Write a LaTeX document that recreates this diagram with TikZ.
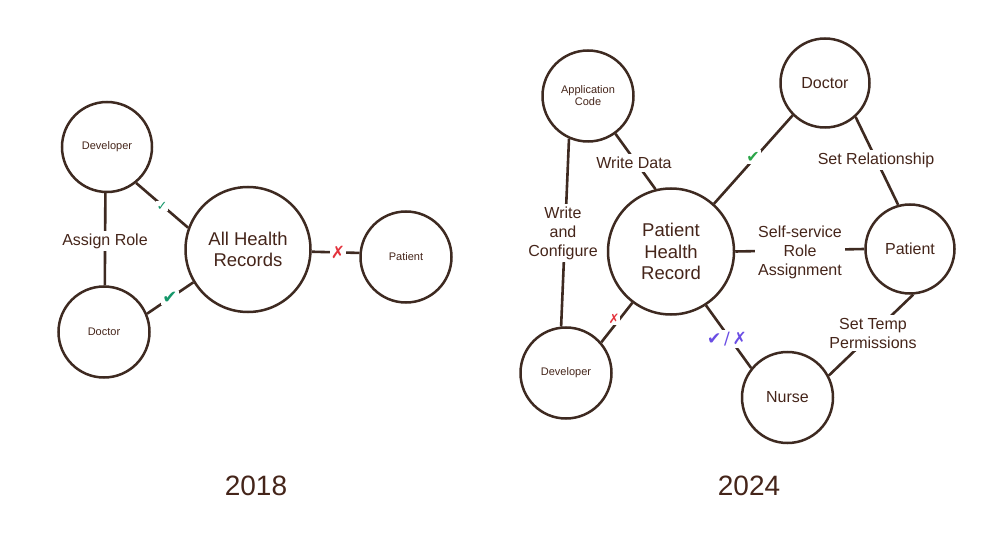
\documentclass[tikz,border=0pt]{standalone}
\usepackage{fontspec}
\setmainfont{Liberation Sans}
\newfontfamily\symf{DejaVu Sans}
\newcommand\fsz[2]{\fontsize{#1}{#2}\selectfont}
\definecolor{textc}{HTML}{45251A}
\definecolor{linec}{HTML}{3E2A21}
\definecolor{okgreen}{HTML}{15976A}
\definecolor{okgreenb}{HTML}{2AA548}
\definecolor{nored}{HTML}{E3323C}
\definecolor{purp}{HTML}{6A4DE4}
\tikzset{
  ent/.style={circle, draw=linec, line width=2.5pt, text=textc, align=center, inner sep=0pt},
  small/.style={font=\fsz{11}{12}},
  mid/.style={font=\fsz{16}{19}},
  big/.style={font=\fsz{18.5}{21.5}},
  conn/.style={draw=linec, line width=2.6pt},
  lbl/.style={fill=white, text=textc, align=center, inner sep=3pt, font=\fsz{16}{19}},
  mark/.style={fill=white, inner sep=2pt, font=\symf\fsz{#1}{#1}},
  mark/.default=13,
  year/.style={text=textc, font=\fsz{28}{28}}
}
\begin{document}
\begin{tikzpicture}[x=1pt,y=-1pt]
\useasboundingbox[fill=white] (0,0) rectangle (1004,540);
% ---------- 2018 ----------
\node[ent, small, minimum size=90pt] (ldev) at (107,147) {Developer};
\node[ent, small, minimum size=91pt] (ldoc) at (104,332) {Doctor};
\node[ent, big, minimum size=125pt] (ahr) at (248,249.5) {All Health\\Records};
\node[ent, small, minimum size=91pt] (lpat) at (406,257) {Patient};

\draw[conn] (ldev.-92) -- (ldoc.89);
\node[lbl] (assign) at (105,241) {Assign Role};
\draw[conn] (ldev.-51) -- (ahr.160);
\node[mark=13, text=okgreen, inner sep=1pt] (lchk1) at (162,206) {✓};
\draw[conn] (ldoc.23) -- (ahr.-149);
\node[mark=18, text=okgreen, inner sep=1pt] (lchk2) at (170,298) {✔};
\draw[conn] (ahr.-2) -- (lpat.175);
\node[mark=17, text=nored, inner sep=1pt] (lx) at (338,252) {✗};

\node[year] (y18) at (256,486) {2018};

% ---------- 2024 ----------
\node[ent, small, minimum size=91pt] (app) at (588,96) {Application\\Code};
\node[ent, mid, minimum size=89pt] (rdoc) at (825,83) {Doctor};
\node[ent, big, minimum size=126pt] (phr) at (671,251.5) {Patient\\Health\\Record};
\node[ent, mid, minimum size=89pt] (rpat) at (910,249) {Patient};
\node[ent, small, minimum size=91pt] (rdev) at (566,373) {Developer};
\node[ent, mid, minimum size=91pt] (nurse) at (787.5,397.5) {Nurse};

\draw[conn] (app.-54) -- (phr.104);
\node[lbl] (wdata) at (634,163) {Write Data};
\draw[conn] (app.-114) -- (rdev.96);
\node[lbl] (wconf) at (563,233) {Write\\and\\Configure};
\draw[conn] (rdoc.-135) -- (phr.48);
\node[mark=16, text=okgreenb, inner sep=1.5pt] (rchk) at (753,157) {✔};
\draw[conn] (rdoc.-48.5) -- (rpat.105);
\node[lbl] (setrel) at (876,160) {Set Relationship};
\draw[conn] (phr.0) -- (rpat.180);
\node[lbl] (selfserv) at (800,252) {Self-service\\Role\\Assignment};
\draw[conn] (phr.-127) -- (rdev.41);
\node[mark=13, text=nored, inner sep=1pt] (rx) at (614,319) {✗};
\draw[conn] (phr.-57.5) -- (nurse.141);
\node[mark=17, text=purp] (nmix) at (727,339) {✔\,/\,✗};
\draw[conn] (rpat.-86) -- (nurse.28.5);
\node[lbl] (settemp) at (873,333) {Set Temp\\Permissions};

\node[year] (y24) at (749,486) {2024};
\end{tikzpicture}
\end{document}
